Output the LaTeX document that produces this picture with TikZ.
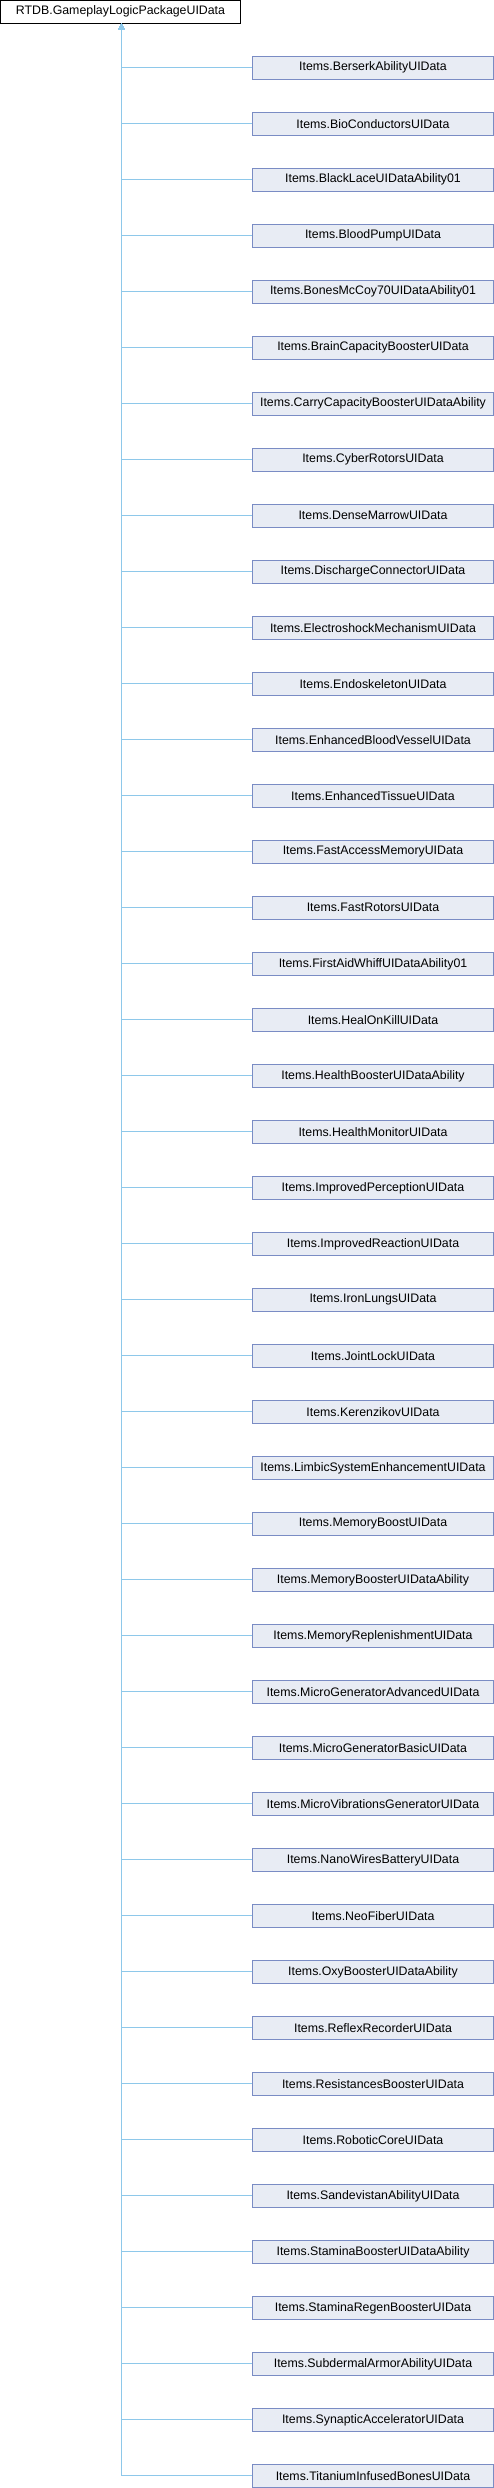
\documentclass[tikz,border=0pt]{standalone}
\usepackage{fontspec}
\setmainfont{Liberation Sans}
\usetikzlibrary{arrows.meta}
\definecolor{edgec}{HTML}{8EC8EA}
\definecolor{boxborder}{HTML}{7A8CC4}
\definecolor{boxfill}{HTML}{E8ECF4}
\tikzset{
  basebox/.style={draw=black, fill=white, line width=1pt, minimum width=240pt, minimum height=22.5pt, inner sep=0pt, font=\fontsize{12.35}{14}\selectfont},
  childbox/.style={draw=boxborder, fill=boxfill, line width=1pt, minimum width=241pt, minimum height=22.5pt, inner sep=0pt, font=\fontsize{12.35}{14}\selectfont},
  edge/.style={draw=edgec, line width=0.9pt, -{Triangle[length=6pt,width=6pt,fill=edgec]}}
}
\begin{document}
\begin{tikzpicture}[x=1pt,y=1pt]
\useasboundingbox (0,0) rectangle (494,-2488);
\node[basebox] (base) at (120.5,-11.8) {RTDB.GameplayLogicPackageUIData};
\coordinate (trunk) at (121.5,-23.3);
\foreach \name [count=\i] in {BerserkAbilityUIData,BioConductorsUIData,BlackLaceUIDataAbility01,BloodPumpUIData,BonesMcCoy70UIDataAbility01,BrainCapacityBoosterUIData,CarryCapacityBoosterUIDataAbility,CyberRotorsUIData,DenseMarrowUIData,DischargeConnectorUIData,ElectroshockMechanismUIData,EndoskeletonUIData,EnhancedBloodVesselUIData,EnhancedTissueUIData,FastAccessMemoryUIData,FastRotorsUIData,FirstAidWhiffUIDataAbility01,HealOnKillUIData,HealthBoosterUIDataAbility,HealthMonitorUIData,ImprovedPerceptionUIData,ImprovedReactionUIData,IronLungsUIData,JointLockUIData,KerenzikovUIData,LimbicSystemEnhancementUIData,MemoryBoostUIData,MemoryBoosterUIDataAbility,MemoryReplenishmentUIData,MicroGeneratorAdvancedUIData,MicroGeneratorBasicUIData,MicroVibrationsGeneratorUIData,NanoWiresBatteryUIData,NeoFiberUIData,OxyBoosterUIDataAbility,ReflexRecorderUIData,ResistancesBoosterUIData,RoboticCoreUIData,SandevistanAbilityUIData,StaminaBoosterUIDataAbility,StaminaRegenBoosterUIData,SubdermalArmorAbilityUIData,SynapticAcceleratorUIData,TitaniumInfusedBonesUIData} {
  \node[childbox] (c\i) at (373,{-67.8-56*(\i-1)}) {Items.\name};
  \draw[edge] (c\i.west) -| (trunk);
}
\end{tikzpicture}
\end{document}
